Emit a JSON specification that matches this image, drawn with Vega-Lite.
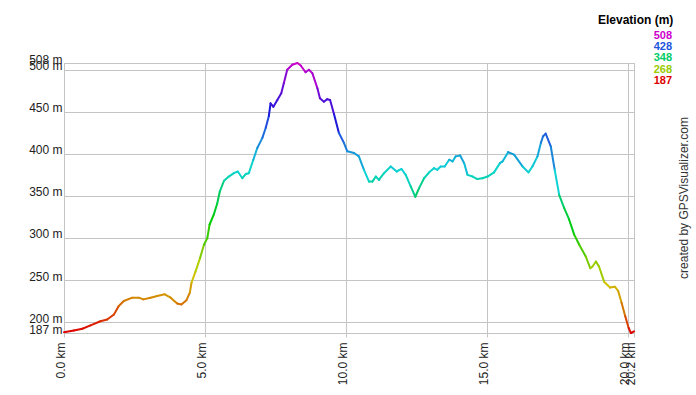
{
  "$schema": "https://vega.github.io/schema/vega-lite/v6.json",
  "width": 570,
  "height": 270,
  "autosize": {"type": "none"},
  "padding": {"left": 64, "top": 63, "right": 62, "bottom": 62},
  "background": "white",
  "title": {
    "text": "created by GPSVisualizer.com",
    "orient": "right",
    "angle": -90,
    "baseline": "alphabetic",
    "frame": "group",
    "anchor": "middle",
    "offset": 2,
    "font": "Liberation Sans",
    "fontSize": 12,
    "fontWeight": "normal",
    "color": "#333333"
  },
  "data": {
    "values": [
      {"km": 0.00, "ele": 188}, {"km": 0.35, "ele": 190}, {"km": 0.65, "ele": 192}, {"km": 0.94, "ele": 196},
      {"km": 1.29, "ele": 201}, {"km": 1.53, "ele": 203}, {"km": 1.77, "ele": 209}, {"km": 1.94, "ele": 219},
      {"km": 2.12, "ele": 225}, {"km": 2.42, "ele": 229}, {"km": 2.65, "ele": 229}, {"km": 2.81, "ele": 227},
      {"km": 3.07, "ele": 229}, {"km": 3.30, "ele": 231}, {"km": 3.57, "ele": 233}, {"km": 3.78, "ele": 229},
      {"km": 4.01, "ele": 222}, {"km": 4.16, "ele": 221}, {"km": 4.34, "ele": 226}, {"km": 4.46, "ele": 235},
      {"km": 4.52, "ele": 247}, {"km": 4.66, "ele": 260}, {"km": 4.82, "ele": 276}, {"km": 4.96, "ele": 292},
      {"km": 5.08, "ele": 300}, {"km": 5.16, "ele": 316}, {"km": 5.31, "ele": 328}, {"km": 5.43, "ele": 341},
      {"km": 5.52, "ele": 355}, {"km": 5.67, "ele": 368}, {"km": 5.84, "ele": 373}, {"km": 6.02, "ele": 377},
      {"km": 6.16, "ele": 379}, {"km": 6.32, "ele": 371}, {"km": 6.44, "ele": 376}, {"km": 6.55, "ele": 377},
      {"km": 6.71, "ele": 393}, {"km": 6.85, "ele": 407}, {"km": 7.03, "ele": 419}, {"km": 7.15, "ele": 431},
      {"km": 7.26, "ele": 445}, {"km": 7.32, "ele": 460}, {"km": 7.42, "ele": 456}, {"km": 7.56, "ele": 464},
      {"km": 7.70, "ele": 472}, {"km": 7.79, "ele": 484}, {"km": 7.91, "ele": 500}, {"km": 8.09, "ele": 506},
      {"km": 8.27, "ele": 508}, {"km": 8.39, "ele": 505}, {"km": 8.56, "ele": 497}, {"km": 8.68, "ele": 500},
      {"km": 8.80, "ele": 496}, {"km": 8.98, "ele": 478}, {"km": 9.07, "ele": 466}, {"km": 9.21, "ele": 462},
      {"km": 9.33, "ele": 465}, {"km": 9.43, "ele": 464}, {"km": 9.57, "ele": 447}, {"km": 9.74, "ele": 425},
      {"km": 9.92, "ele": 413}, {"km": 10.04, "ele": 403}, {"km": 10.28, "ele": 401}, {"km": 10.45, "ele": 397},
      {"km": 10.63, "ele": 381}, {"km": 10.81, "ele": 367}, {"km": 10.93, "ele": 367}, {"km": 11.05, "ele": 373},
      {"km": 11.16, "ele": 369}, {"km": 11.34, "ele": 377}, {"km": 11.58, "ele": 385}, {"km": 11.79, "ele": 379},
      {"km": 11.96, "ele": 382}, {"km": 12.11, "ele": 375}, {"km": 12.29, "ele": 361}, {"km": 12.45, "ele": 349},
      {"km": 12.58, "ele": 359}, {"km": 12.76, "ele": 371}, {"km": 12.94, "ele": 378}, {"km": 13.11, "ele": 383},
      {"km": 13.23, "ele": 381}, {"km": 13.35, "ele": 385}, {"km": 13.49, "ele": 385}, {"km": 13.65, "ele": 393},
      {"km": 13.77, "ele": 391}, {"km": 13.88, "ele": 397}, {"km": 14.04, "ele": 398}, {"km": 14.18, "ele": 389},
      {"km": 14.30, "ele": 375}, {"km": 14.48, "ele": 373}, {"km": 14.65, "ele": 370}, {"km": 14.83, "ele": 371},
      {"km": 15.01, "ele": 373}, {"km": 15.24, "ele": 378}, {"km": 15.45, "ele": 389}, {"km": 15.54, "ele": 391},
      {"km": 15.74, "ele": 402}, {"km": 15.95, "ele": 399}, {"km": 16.25, "ele": 385}, {"km": 16.46, "ele": 378},
      {"km": 16.60, "ele": 385}, {"km": 16.78, "ele": 397}, {"km": 16.90, "ele": 413}, {"km": 16.98, "ele": 421},
      {"km": 17.07, "ele": 424}, {"km": 17.25, "ele": 409}, {"km": 17.39, "ele": 381}, {"km": 17.55, "ele": 351},
      {"km": 17.72, "ele": 336}, {"km": 17.90, "ele": 322}, {"km": 18.08, "ele": 304}, {"km": 18.26, "ele": 292},
      {"km": 18.49, "ele": 278}, {"km": 18.65, "ele": 264}, {"km": 18.73, "ele": 266}, {"km": 18.85, "ele": 272},
      {"km": 18.96, "ele": 266}, {"km": 19.14, "ele": 248}, {"km": 19.35, "ele": 241}, {"km": 19.52, "ele": 242},
      {"km": 19.64, "ele": 237}, {"km": 19.76, "ele": 223}, {"km": 19.89, "ele": 207}, {"km": 20.01, "ele": 193},
      {"km": 20.09, "ele": 187}, {"km": 20.20, "ele": 189}
    ]
  },
  "transform": [
    {"window": [{"op": "lead", "field": "km", "as": "km2"}, {"op": "lead", "field": "ele", "as": "ele2"}], "sort": [{"field": "km"}]},
    {"filter": "isValid(datum.km2)"}
  ],
  "mark": {"type": "rule", "strokeWidth": 2, "strokeCap": "round"},
  "encoding": {
    "x": {
      "field": "km", "type": "quantitative",
      "scale": {"domain": [0, 20.2], "nice": false, "zero": false},
      "axis": {
        "title": null,
        "values": [0, 5, 10, 15, 20, 20.2],
        "labelExpr": "format(datum.value, '.1f') + ' km'",
        "labelAngle": 270, "labelAlign": "right", "labelBaseline": "alphabetic",
        "labelFont": "Liberation Sans", "labelFontSize": 12, "labelColor": "#222222",
        "labelPadding": 5, "labelOverlap": false, "labelFlush": false, "labelBound": false,
        "tickSize": 4, "tickColor": "#c4c4c4", "domain": false,
        "grid": true, "gridColor": "#c4c4c4", "gridOpacity": 1
      }
    },
    "x2": {"field": "km2"},
    "y": {
      "field": "ele", "type": "quantitative",
      "scale": {"domain": [187, 508], "nice": false, "zero": false},
      "axis": {
        "title": null,
        "values": [187, 200, 250, 300, 350, 400, 450, 500, 508],
        "labelExpr": "datum.value + ' m'",
        "labelBaseline": "alphabetic",
        "labelFont": "Liberation Sans", "labelFontSize": 12, "labelColor": "#222222",
        "labelPadding": 2, "labelOverlap": false, "labelFlush": false, "labelBound": false,
        "ticks": false, "tickSize": 0, "domain": false,
        "grid": true, "gridColor": "#c4c4c4", "gridOpacity": 1
      }
    },
    "y2": {"field": "ele2"},
    "color": {
      "field": "ele", "type": "quantitative",
      "scale": {
        "domain": [187, 268, 348, 428, 508],
        "range": ["#dd0000", "#99cc00", "#00cc66", "#2255dd", "#cc00cc"],
        "interpolate": "hsl"
      },
      "legend": {
        "type": "symbol",
        "values": [508, 428, 348, 268, 187],
        "title": "Elevation (m)",
        "orient": "none", "legendX": 534, "legendY": -48,
        "titleFont": "Liberation Sans", "titleFontSize": 12, "titleFontWeight": "bold", "titleColor": "#000000",
        "titleAnchor": "start", "titleAlign": "left", "titlePadding": 3,
        "labelFont": "Liberation Sans", "labelFontSize": 11, "labelFontWeight": "bold",
        "labelAlign": "right",
        "symbolSize": 0, "symbolOpacity": 0, "symbolStrokeWidth": 0, "labelOffset": 63, "rowPadding": -0.6,
        "encode": {"labels": {"update": {"fill": {"scale": "color", "field": "value"}}}}
      }
    }
  },
  "config": {"view": {"stroke": "#c4c4c4"}}
}
